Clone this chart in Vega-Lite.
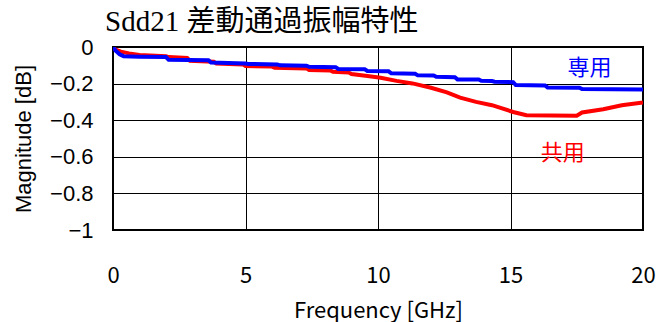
{
  "$schema": "https://vega.github.io/schema/vega-lite/v6.json",
  "width": 530,
  "height": 183,
  "autosize": "none",
  "padding": {"left": 113, "top": 47, "right": 14, "bottom": 92},
  "background": "white",
  "title": {
    "text": "Sdd21 差動通過振幅特性",
    "anchor": "start",
    "frame": "group",
    "dx": -8,
    "offset": -1,
    "font": "'Liberation Serif', 'DejaVu Serif', 'Noto Sans CJK JP', serif",
    "fontSize": 29,
    "fontWeight": "normal",
    "color": "#000000"
  },
  "config": {
    "view": {"stroke": "#000000", "strokeWidth": 2},
    "axis": {"gridColor": "#000000", "gridOpacity": 1, "gridWidth": 1, "domain": false, "ticks": false, "labelColor": "#000000", "titleColor": "#000000", "titleFontWeight": "normal", "labelOverlap": false, "labelFlush": false}
  },
  "datasets": {
    "blue": [
      {"f": 0, "db": 0}, {"f": 0.1, "db": -0.02}, {"f": 0.25, "db": -0.04}, {"f": 0.4, "db": -0.05},
      {"f": 1.0, "db": -0.053}, {"f": 2.0, "db": -0.055}, {"f": 2.1, "db": -0.07}, {"f": 3.6, "db": -0.072},
      {"f": 3.7, "db": -0.085}, {"f": 5.0, "db": -0.09}, {"f": 5.1, "db": -0.093}, {"f": 6.2, "db": -0.095},
      {"f": 6.3, "db": -0.1}, {"f": 7.3, "db": -0.102}, {"f": 7.4, "db": -0.108}, {"f": 8.4, "db": -0.11},
      {"f": 8.5, "db": -0.12}, {"f": 9.5, "db": -0.122}, {"f": 9.6, "db": -0.131}, {"f": 10.4, "db": -0.133},
      {"f": 10.5, "db": -0.144}, {"f": 11.4, "db": -0.146}, {"f": 11.5, "db": -0.155}, {"f": 12.1, "db": -0.156},
      {"f": 12.2, "db": -0.163}, {"f": 12.9, "db": -0.165}, {"f": 13.0, "db": -0.177}, {"f": 13.8, "db": -0.178},
      {"f": 13.9, "db": -0.185}, {"f": 14.3, "db": -0.186}, {"f": 14.4, "db": -0.19}, {"f": 15.1, "db": -0.192},
      {"f": 15.2, "db": -0.208}, {"f": 16.3, "db": -0.21}, {"f": 16.4, "db": -0.221}, {"f": 17.6, "db": -0.222},
      {"f": 17.7, "db": -0.23}, {"f": 20, "db": -0.232}
    ],
    "red": [
      {"f": 0, "db": 0}, {"f": 0.1, "db": -0.015}, {"f": 0.3, "db": -0.025}, {"f": 0.6, "db": -0.035},
      {"f": 1.0, "db": -0.044}, {"f": 2.0, "db": -0.05}, {"f": 2.1, "db": -0.055}, {"f": 2.8, "db": -0.06},
      {"f": 2.9, "db": -0.075}, {"f": 3.8, "db": -0.08}, {"f": 3.9, "db": -0.09}, {"f": 4.9, "db": -0.095},
      {"f": 5.0, "db": -0.104}, {"f": 6.0, "db": -0.107}, {"f": 6.1, "db": -0.113}, {"f": 7.3, "db": -0.117},
      {"f": 7.4, "db": -0.126}, {"f": 8.2, "db": -0.128}, {"f": 8.3, "db": -0.135}, {"f": 8.9, "db": -0.14},
      {"f": 9.0, "db": -0.148}, {"f": 9.6, "db": -0.159}, {"f": 10.1, "db": -0.168}, {"f": 10.7, "db": -0.185},
      {"f": 11.3, "db": -0.199}, {"f": 12.0, "db": -0.223}, {"f": 12.6, "db": -0.248}, {"f": 13.1, "db": -0.277},
      {"f": 13.7, "db": -0.3}, {"f": 14.3, "db": -0.318}, {"f": 15.1, "db": -0.355}, {"f": 15.6, "db": -0.373},
      {"f": 17.5, "db": -0.375}, {"f": 17.7, "db": -0.358}, {"f": 18.5, "db": -0.34}, {"f": 19.2, "db": -0.318},
      {"f": 20, "db": -0.303}
    ],
    "labels": [
      {"f": 17.98, "db": -0.115, "t": "専用", "c": "blue"},
      {"f": 16.97, "db": -0.579, "t": "共用", "c": "red"}
    ]
  },
  "layer": [
    {
      "data": {"name": "red"},
      "mark": {"type": "line", "color": "#FF0000", "strokeWidth": 4, "clip": true},
      "encoding": {
        "x": {
          "field": "f", "type": "quantitative",
          "scale": {"domain": [0, 20], "nice": false, "zero": false},
          "axis": {
            "values": [0, 5, 10, 15, 20],
            "title": "Frequency [GHz]",
            "labelFont": "Noto Sans CJK JP",
            "labelFontSize": 22,
            "labelPadding": 35,
            "labelOverlap": false,
            "labelFlush": false,
            "titleFont": "Noto Sans CJK JP",
            "titleFontSize": 22,
            "titlePadding": 14
          }
        },
        "y": {
          "field": "db", "type": "quantitative",
          "scale": {"domain": [-1, 0], "nice": false, "zero": false},
          "axis": {
            "tickCount": 5,
            "grid": true,
            "format": ".1~f",
            "title": "Magnitude [dB]",
            "labelFont": "Liberation Sans",
            "labelFontSize": 22,
            "labelPadding": 20,
            "labelOverlap": false,
            "labelFlush": false,
            "labelBound": false,
            "titleFont": "Liberation Sans",
            "titleFontSize": 22,
            "titlePadding": 14
          }
        }
      }
    },
    {
      "data": {"name": "blue"},
      "mark": {"type": "line", "color": "#0000FF", "strokeWidth": 4, "clip": true},
      "encoding": {
        "x": {"field": "f", "type": "quantitative"},
        "y": {"field": "db", "type": "quantitative"}
      }
    },
    {
      "data": {"name": "labels"},
      "mark": {"type": "text", "font": "Noto Sans CJK JP", "fontSize": 22, "align": "center", "baseline": "middle"},
      "encoding": {
        "x": {"field": "f", "type": "quantitative"},
        "y": {"field": "db", "type": "quantitative"},
        "text": {"field": "t"},
        "color": {"field": "c", "type": "nominal", "scale": {"domain": ["blue", "red"], "range": ["#0000FF", "#FF0000"]}, "legend": null}
      }
    }
  ]
}
